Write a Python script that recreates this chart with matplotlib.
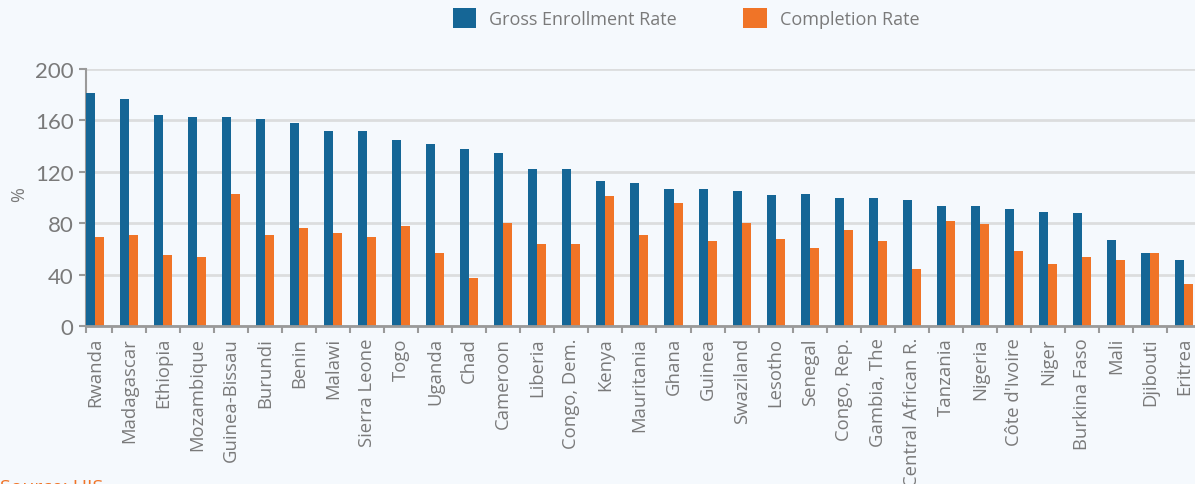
import numpy as np
import matplotlib
matplotlib.use("Agg")
import matplotlib.pyplot as plt
from matplotlib.patches import Patch

plt.rcParams['font.family'] = ['Open Sans', 'DejaVu Sans']

# ------------------------------
# data
# ------------------------------
countries = ["Rwanda", "Madagascar", "Ethiopia", "Mozambique", "Guinea-Bissau",
             "Burundi", "Benin", "Malawi", "Sierra Leone", "Togo", "Uganda",
             "Chad", "Cameroon", "Liberia", "Congo, Dem.", "Kenya", "Mauritania",
             "Ghana", "Guinea", "Swaziland", "Lesotho", "Senegal", "Congo, Rep.",
             "Gambia, The", "Central African R.", "Tanzania", "Nigeria",
             "Côte d'Ivoire", "Niger", "Burkina Faso", "Mali", "Djibouti", "Eritrea"]
gross_enrollment = [181, 177, 164, 163, 163, 161, 158, 152, 152, 145, 142,
                    138, 135, 122, 122, 113, 111, 107, 107, 105, 102, 103,
                    100, 100, 98, 93, 93, 91, 89, 88, 67, 57, 51]
completion = [69, 71, 55, 54, 103, 71, 76, 72, 69, 78, 57,
              37, 80, 64, 64, 101, 71, 96, 66, 80, 68, 61,
              75, 66, 44, 82, 79, 58, 48, 54, 51, 57, 33]
y_ticks = [0, 40, 80, 120, 160, 200]

BLUE = "#156696"
ORANGE = "#F07427"
BG = "#F5F9FD"
GREY_TXT = "#7A7A7A"

fig = plt.figure(figsize=(11.95, 4.85), dpi=100, facecolor=BG)
ax = fig.add_axes([86 / 1195, 1 - 327 / 485, (1195 - 86) / 1195, (327 - 70) / 485])
ax.set_facecolor(BG)

x = np.arange(len(countries))
w = 0.265
ax.bar(x - w / 2, gross_enrollment, width=w, color=BLUE, zorder=3)
ax.bar(x + w / 2, completion, width=w, color=ORANGE, zorder=3)

ax.set_xlim(-w, len(countries) - 1 + w + 0.06)
ax.set_ylim(0, 200)

# grid
ax.set_yticks(y_ticks)
ax.yaxis.grid(True, color="#DCDDDE", linewidth=2, zorder=0)
ax.set_axisbelow(True)

for s in ["top", "right"]:
    ax.spines[s].set_visible(False)
ax.spines["left"].set_color("#9A9A9A")
ax.spines["left"].set_linewidth(1.5)
ax.spines["bottom"].set_color("#9A9A9A")
ax.spines["bottom"].set_linewidth(2)
ax.spines["bottom"].set_zorder(4)

ax.tick_params(axis="y", colors="#9A9A9A", labelcolor=GREY_TXT, labelsize=16,
               length=5, width=1.5, pad=4)
for lab in ax.get_yticklabels():
    lab.set_fontfamily(['Lato', 'DejaVu Sans'])

# category labels, ticks between categories
ax.set_xticks(x)
ax.set_xticklabels(countries, rotation=90, fontsize=13.3, color=GREY_TXT)
ax.tick_params(axis="x", length=0, pad=8)
ax.set_xticks(list(x[:-1] + 0.5) + [-w], minor=True)
ax.tick_params(axis="x", which="minor", length=5, width=1.5, colors="#9A9A9A")

fig.text(19 / 1195, 1 - 195 / 485, "%", rotation=90, ha="center", va="center",
         fontsize=13, color=GREY_TXT)

handles = [Patch(facecolor=BLUE), Patch(facecolor=ORANGE)]
fig.legend(handles, ["Gross Enrollment Rate", "Completion Rate"],
           loc="center", bbox_to_anchor=(686 / 1195, 1 - 19 / 485), ncol=2,
           frameon=False, fontsize=13, labelcolor=GREY_TXT,
           handlelength=1.3, handleheight=1.3, handletextpad=0.7,
           columnspacing=3.7)

fig.text(0, 1 - 497 / 485, "Source: UIS", ha="left", va="bottom",
         fontsize=14, color=ORANGE)

fig.savefig("out.png", dpi=100, facecolor=BG)
